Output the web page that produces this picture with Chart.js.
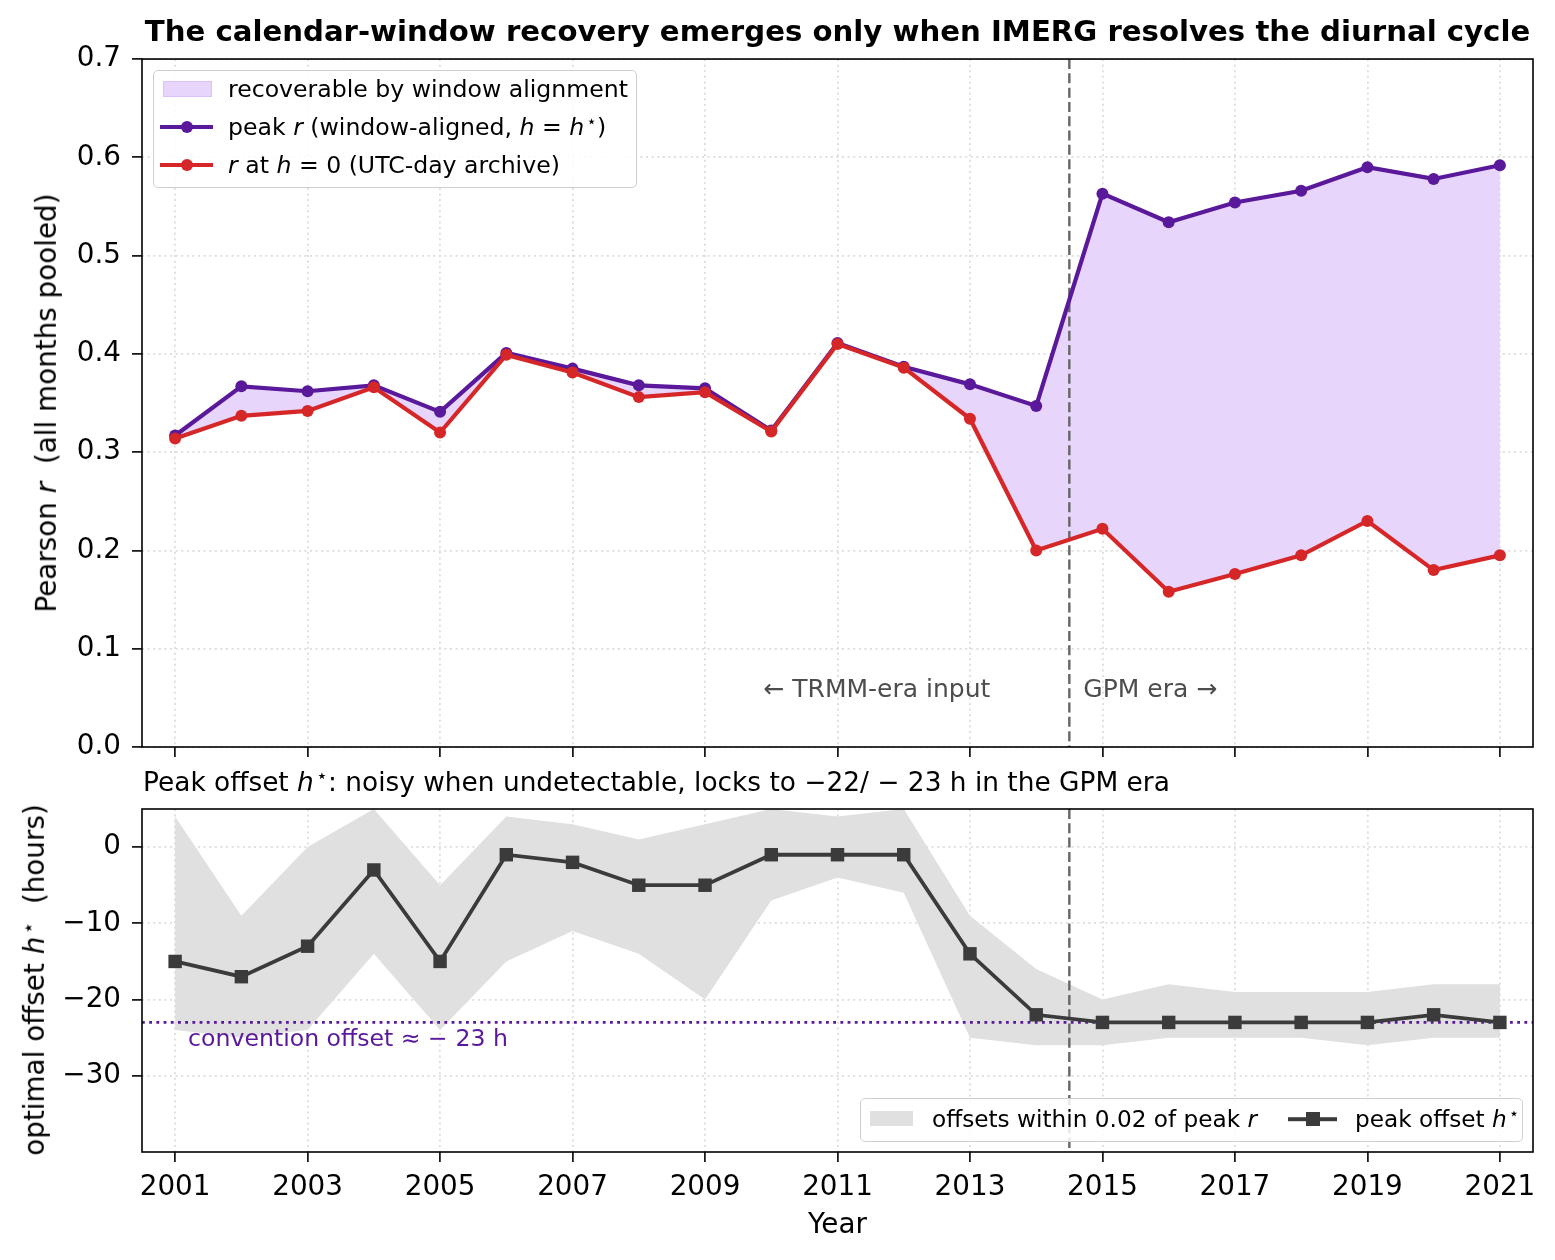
<!DOCTYPE html>
<html>
<head>
<meta charset="utf-8">
<script src="https://cdn.jsdelivr.net/npm/chart.js@4.4.1/dist/chart.umd.min.js"></script>
<style>
  html, body { margin: 0; padding: 0; background: #fff; }
  #fig { position: relative; width: 1555px; height: 1260px; font-family: 'DejaVu Sans', sans-serif; color: #000; overflow: hidden; }
  .pane { position: absolute; left: 0; width: 1555px; }
  .ov { position: absolute; white-space: nowrap; z-index: 5; }
  .ylab { font-size: 27.8px; line-height: 1.16; transform: translate(-50%, -50%) rotate(-90deg); }
  .mid { transform: translateY(-50%); line-height: 1.2; }
  .box { background: rgba(255,255,255,0.85); border: 1.6px solid #cfcfcf; border-radius: 5px; box-sizing: border-box; z-index: 4; }
  sup.st { font-size: 0.72em; vertical-align: 0.45em; line-height: 0; margin-left: 0.12em; }
  .hline { height: 4px; transform: translateY(-50%); }
  .dot { width: 12px; height: 12px; border-radius: 50%; transform: translate(-50%, -50%); }
  .sq { width: 14px; height: 14px; transform: translate(-50%, -50%); }
</style>
</head>
<body>
<div id="fig">
  <div class="pane" style="top:762px;height:498px;"><canvas id="botChart"></canvas></div>
  <div class="pane" style="top:0;height:776px;"><canvas id="topChart"></canvas></div>

  <!-- axis labels with math italics -->
  <div class="ov ylab" style="left:47px;top:403px;">Pearson <i>r</i>&nbsp;&nbsp;(all months pooled)</div>
  <div class="ov ylab" style="left:35px;top:980px;">optimal offset <i>h</i><sup class="st">⋆</sup>&nbsp;&nbsp;(hours)</div>

  <!-- lower panel title -->
  <div class="ov mid" style="left:143px;top:782px;font-size:26.4px;">Peak offset <i>h</i><sup class="st">⋆</sup>: noisy when undetectable, locks to −22/ − 23 h in the GPM era</div>

  <!-- upper legend -->
  <div class="ov box" style="left:153px;top:70px;width:484px;height:118px;"></div>
  <div class="ov" style="left:163px;top:81px;width:49px;height:16px;background:#e8d5fc;border:1px solid #dcc2fb;box-sizing:border-box;"></div>
  <div class="ov mid" style="left:228px;top:89px;font-size:23.6px;">recoverable by window alignment</div>
  <div class="ov hline" style="left:160px;top:127px;width:53px;background:#5a189a;"></div>
  <div class="ov dot" style="left:186.5px;top:127px;background:#5a189a;"></div>
  <div class="ov mid" style="left:228px;top:127px;font-size:23.6px;">peak <i>r</i> (window-aligned, <i>h</i> = <i>h</i><sup class="st">⋆</sup>)</div>
  <div class="ov hline" style="left:160px;top:165px;width:53px;background:#d62728;"></div>
  <div class="ov dot" style="left:186.5px;top:165px;background:#d62728;"></div>
  <div class="ov mid" style="left:228px;top:165px;font-size:23.6px;"><i>r</i> at <i>h</i> = 0 (UTC-day archive)</div>

  <!-- lower legend -->
  <div class="ov box" style="left:860px;top:1098px;width:663px;height:44px;"></div>
  <div class="ov" style="left:870px;top:1111px;width:43px;height:15px;background:#e0e0e0;"></div>
  <div class="ov mid" style="left:932px;top:1119px;font-size:23.2px;">offsets within 0.02 of peak <i>r</i></div>
  <div class="ov hline" style="left:1288px;top:1119px;width:49px;height:3.6px;background:#3b3b3b;"></div>
  <div class="ov sq" style="left:1312.5px;top:1119px;background:#3b3b3b;"></div>
  <div class="ov mid" style="left:1355px;top:1119px;font-size:23.2px;">peak offset <i>h</i><sup class="st">⋆</sup></div>
</div>

<script>
// ---------------- data ----------------
const YEARS = [2001, 2002, 2003, 2004, 2005, 2006, 2007, 2008, 2009, 2010, 2011,
               2012, 2013, 2014, 2015, 2016, 2017, 2018, 2019, 2020, 2021];
const PEAK_R = [0.317, 0.367, 0.362, 0.368, 0.341, 0.401, 0.385, 0.368, 0.365, 0.322, 0.411,
                0.387, 0.369, 0.347, 0.563, 0.534, 0.554, 0.566, 0.590, 0.578, 0.592];
const R_AT_H0 = [0.314, 0.337, 0.342, 0.366, 0.320, 0.399, 0.381, 0.356, 0.361, 0.321, 0.410,
                 0.386, 0.334, 0.200, 0.222, 0.158, 0.176, 0.195, 0.230, 0.180, 0.195];
const PEAK_OFFSET = [-15, -17, -13, -3, -15, -1, -2, -5, -5, -1, -1,
                     -1, -14, -22, -23, -23, -23, -23, -23, -22, -23];
const BAND_UPPER = [4, -9, 0, 5, -5, 4, 3, 1, 3, 5, 4,
                    5, -9, -16, -20, -18, -19, -19, -19, -18, -18];
const BAND_LOWER = [-24, -25, -24, -14, -24, -15, -11, -14, -20, -7, -4,
                    -6, -25, -26, -26, -25, -25, -25, -26, -25, -25];
const X_TICKS = [2001, 2003, 2005, 2007, 2009, 2011, 2013, 2015, 2017, 2019, 2021];
const R_TICKS = [0.0, 0.1, 0.2, 0.3, 0.4, 0.5, 0.6, 0.7];
const H_TICKS = [-30, -20, -10, 0];
const ERA_BREAK = 2014.5;
const CONVENTION_OFFSET = -23;
const TITLE = 'The calendar-window recovery emerges only when IMERG resolves the diurnal cycle';
const TRMM_LABEL = '← TRMM-era input';
const GPM_LABEL = 'GPM era →';
const CONVENTION_LABEL = 'convention offset ≈ − 23 h';

// ---------------- styling ----------------
const FONT = "'DejaVu Sans', sans-serif";
Chart.defaults.font.family = FONT;
Chart.defaults.color = '#000';
const PURPLE = '#5a189a', RED = '#d62728', DARK = '#3b3b3b';
const GRID = { color: '#dcdcdc', lineWidth: 1.8, tickLength: 10, tickColor: '#000', tickWidth: 1.6, tickBorderDash: [] };
const BORDER = { display: false, dash: [2, 3.6] };

const pts = (ys) => YEARS.map((x, i) => ({ x: x, y: ys[i] }));
const setTicks = (vals) => (scale) => { scale.ticks = vals.map(v => ({ value: v })); };
const minusFmt = (v) => (v < 0 ? '−' + Math.abs(v) : String(v));

const framePlugin = {
  id: 'frame',
  afterDraw(chart) {
    const { ctx, chartArea: a } = chart;
    ctx.save();
    ctx.setLineDash([]);
    ctx.strokeStyle = '#000';
    ctx.lineWidth = 1.6;
    ctx.strokeRect(a.left, a.top, a.right - a.left, a.bottom - a.top);
    ctx.restore();
  }
};
const eraPlugin = {
  id: 'era',
  beforeDatasetsDraw(chart) {
    const { ctx, chartArea: a, scales } = chart;
    const x = scales.x.getPixelForValue(ERA_BREAK);
    ctx.save();
    ctx.strokeStyle = '#666666';
    ctx.lineWidth = 2.4;
    ctx.setLineDash([10, 4.3]);
    ctx.beginPath(); ctx.moveTo(x, a.top); ctx.lineTo(x, a.bottom); ctx.stroke();
    ctx.restore();
  }
};

// ---------------- top chart ----------------
const topAnnot = {
  id: 'topAnnot',
  afterDatasetsDraw(chart) {
    const { ctx, scales } = chart;
    const x = scales.x.getPixelForValue(ERA_BREAK);
    const y = scales.y.getPixelForValue(0.057);
    ctx.save();
    ctx.font = '25px ' + FONT;
    ctx.fillStyle = '#4d4d4d';
    ctx.textBaseline = 'middle';
    ctx.textAlign = 'right';
    ctx.fillText(TRMM_LABEL, x - 79, y);
    ctx.textAlign = 'left';
    ctx.fillText(GPM_LABEL, x + 14, y);
    ctx.restore();
  }
};

new Chart(document.getElementById('topChart'), {
  type: 'line',
  data: {
    datasets: [
      { label: 'peak r (window-aligned, h = h*)', data: pts(PEAK_R), borderColor: PURPLE, backgroundColor: '#e8d5fc',
        borderWidth: 4.2, pointRadius: 6, pointBackgroundColor: PURPLE, pointBorderWidth: 0, fill: '+1', order: 1, tension: 0 },
      { label: 'r at h = 0 (UTC-day archive)', data: pts(R_AT_H0), borderColor: RED, backgroundColor: RED,
        borderWidth: 4.2, pointRadius: 6, pointBackgroundColor: RED, pointBorderWidth: 0, fill: false, order: 0, tension: 0 }
    ]
  },
  options: {
    responsive: true, maintainAspectRatio: false, animation: false,
    layout: { padding: { left: 0, right: 22, top: 0, bottom: 0 } },
    plugins: {
      legend: { display: false }, tooltip: { enabled: false },
      filler: { drawTime: 'beforeDatasetsDraw' },
      title: { display: true, text: TITLE, fullSize: false, color: '#000',
               font: { family: FONT, size: 29.2, weight: 'bold', lineHeight: 1.2 },
               padding: { top: 16, bottom: 8 } }
    },
    scales: {
      x: { type: 'linear', min: 2000.5, max: 2021.5, afterBuildTicks: setTicks(X_TICKS),
           ticks: { display: false }, grid: GRID, border: BORDER,
           afterFit: (s) => { s.height = 29; } },
      y: { min: 0, max: 0.7, afterBuildTicks: setTicks(R_TICKS),
           ticks: { font: { size: 27.8 }, padding: 11, callback: (v) => v.toFixed(1) },
           grid: GRID, border: BORDER,
           afterFit: (s) => { s.width = 142; } }
    }
  },
  plugins: [eraPlugin, topAnnot, framePlugin]
});

// ---------------- bottom chart ----------------
const convPlugin = {
  id: 'conv',
  beforeDatasetsDraw(chart) {
    const { ctx, chartArea: a, scales } = chart;
    const y = scales.y.getPixelForValue(CONVENTION_OFFSET);
    ctx.save();
    ctx.strokeStyle = PURPLE;
    ctx.lineWidth = 2.6;
    ctx.setLineDash([2.8, 4.4]);
    ctx.beginPath(); ctx.moveTo(a.left, y); ctx.lineTo(a.right, y); ctx.stroke();
    ctx.restore();
  },
  afterDatasetsDraw(chart) {
    const { ctx, scales } = chart;
    const x = scales.x.getPixelForValue(YEARS[0]) + 13;
    const y = scales.y.getPixelForValue(CONVENTION_OFFSET) + 17;
    ctx.save();
    ctx.font = '23.6px ' + FONT;
    ctx.fillStyle = PURPLE;
    ctx.textBaseline = 'middle';
    ctx.textAlign = 'left';
    ctx.fillText(CONVENTION_LABEL, x, y);
    ctx.restore();
  }
};

new Chart(document.getElementById('botChart'), {
  type: 'line',
  data: {
    datasets: [
      { label: 'peak offset h*', data: pts(PEAK_OFFSET), borderColor: DARK, backgroundColor: DARK,
        borderWidth: 3.8, pointStyle: 'rect', pointRadius: 9.5, pointBackgroundColor: DARK, pointBorderWidth: 0,
        fill: false, order: 0, tension: 0 },
      { label: 'offsets within 0.02 of peak r', data: pts(BAND_UPPER), borderWidth: 0, pointRadius: 0,
        backgroundColor: '#e0e0e0', borderColor: 'rgba(0,0,0,0)', fill: '+1', order: 1, tension: 0 },
      { label: 'band lower', data: pts(BAND_LOWER), borderWidth: 0, pointRadius: 0,
        borderColor: 'rgba(0,0,0,0)', fill: false, order: 2, tension: 0 }
    ]
  },
  options: {
    responsive: true, maintainAspectRatio: false, animation: false,
    layout: { padding: { left: 0, right: 22, top: 47, bottom: 0 } },
    plugins: { legend: { display: false }, tooltip: { enabled: false }, filler: { drawTime: 'beforeDatasetsDraw' } },
    scales: {
      x: { type: 'linear', min: 2000.5, max: 2021.5, afterBuildTicks: setTicks(X_TICKS),
           ticks: { font: { size: 27.8 }, padding: 9, maxRotation: 0, autoSkip: false, callback: (v) => String(v) },
           grid: GRID, border: BORDER,
           title: { display: true, text: 'Year', font: { size: 27.8, lineHeight: 1.2 }, padding: { top: 0, bottom: 18 } },
           afterFit: (s) => { s.height = 108; } },
      y: { min: -40, max: 5, afterBuildTicks: setTicks(H_TICKS),
           ticks: { font: { size: 27.8 }, padding: 11, callback: minusFmt },
           grid: GRID, border: BORDER,
           afterFit: (s) => { s.width = 142; } }
    }
  },
  plugins: [eraPlugin, convPlugin, framePlugin]
});
</script>
</body>
</html>
